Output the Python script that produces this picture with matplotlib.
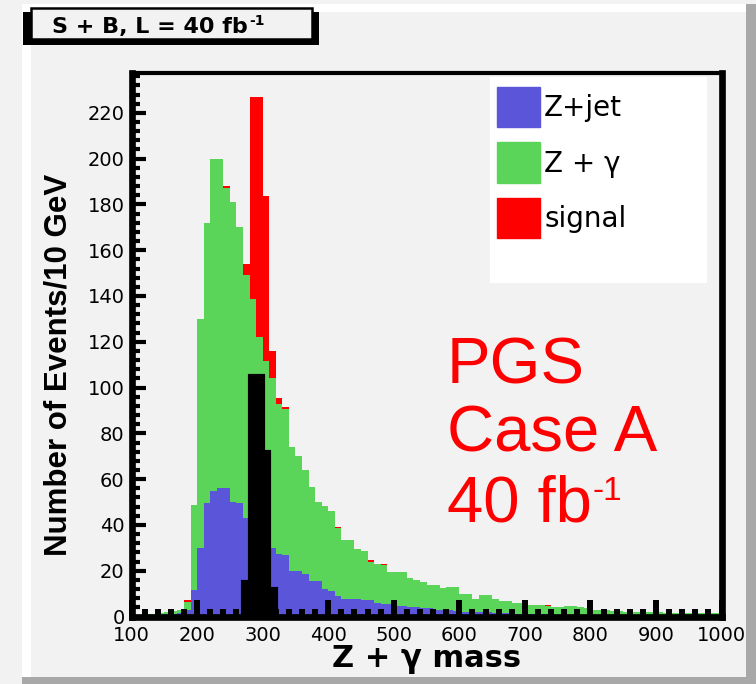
import numpy as np
import matplotlib
matplotlib.use("Agg")
import matplotlib.pyplot as plt
from matplotlib.patches import Rectangle, Patch

# 10 GeV bins from 100 to 1000 GeV
edges = np.arange(100, 1001, 10)

# Z+jet background (bottom of the stack)
zjet = [0.3, 0.4, 0.5, 0.6, 0.8, 1.0, 1.0, 1.5, 2.8, 11.5,
        30, 49.7, 55, 56, 56, 50, 49.5, 43, 40, 36,
        33, 30, 27.5, 26.7, 20, 20, 18.7, 15.5, 15.5, 12.2,
        11, 9, 7.8, 7.8, 7.5, 7.1, 7.1, 6, 5.6, 5.5,
        4.5, 4.5, 4, 4, 3.5, 3.5, 3, 3, 3, 2.5,
        2, 2, 2, 2, 1.8, 1.5, 1.5, 1.5, 1.2, 1.2,
        1, 1, 1, 1, 0.8, 0.8, 0.8, 0.8, 0.6, 0.6,
        0.5, 0.5, 0.5, 0.5, 0.5, 0.5, 0.4, 0.4, 0.4, 0.4,
        0.4, 0.3, 0.3, 0.3, 0.3, 0.3, 0.3, 0.3, 0.3, 0.3]

# Z + gamma background (stacked on Z+jet)
zgamma = [0.2, 0.4, 0.5, 0.6, 0.7, 1.0, 1.5, 1.5, 3.6, 37.0,
          100.0, 122.3, 145.0, 144.0, 131.0, 131.0, 120.5, 106.0, 98.6, 86.0,
          78.7, 74.0, 65.3, 63.9, 54.0, 50.0, 45.5, 41.0, 34.5, 36.0,
          35.3, 29.8, 25.4, 25.4, 21.8, 21.5, 16.7, 16.8, 16.7, 14.0,
          15.0, 14.8, 12.6, 11.8, 11.6, 10.1, 10.6, 9.5, 9.9, 10.4,
          8.0, 8.0, 5.8, 7.6, 7.8, 6.0, 5.2, 5.2, 4.9, 4.9,
          4.2, 4.2, 4.0, 3.8, 3.5, 3.5, 4.0, 4.0, 3.4, 3.0,
          2.4, 2.3, 2.3, 1.8, 1.7, 1.6, 1.6, 1.6, 1.5, 1.4,
          1.4, 1.4, 1.4, 1.3, 1.3, 1.3, 1.2, 1.2, 1.2, 1.2]

# signal (stacked on top)
signal = [0, 0, 0, 0, 0, 0, 0, 0, 0.6, 0,
          0, 0, 0, 0, 1.0, 0, 0, 5, 88.4, 105,
          72, 12, 2.5, 0.8, 0, 0, 0, 0, 0, 0,
          0, 0.4, 0, 0, 0, 0, 0.7, 0, 0.5, 0,
          0, 0, 0, 0, 0, 0, 0.3, 0, 0, 0,
          0, 0, 0, 0, 0, 0, 0, 0, 0, 0,
          0, 0, 0, 0.3, 0, 0, 0, 0, 0, 0,
          0, 0, 0, 0, 0, 0, 0, 0, 0, 0,
          0, 0, 0, 0, 0, 0, 0, 0, 0, 0]

# black thick-line histogram drawn unstacked
black = np.zeros(90)
black[17:22] = [15, 105, 105, 72, 12]

BLUE = "#5a55d9"
GREEN = "#5ad55a"
RED = "#ff0000"
BG = "#f2f2f2"

W, H = 756, 684
fig = plt.figure(figsize=(W / 100, H / 100), dpi=100, facecolor=BG)
renderer = fig.canvas.get_renderer()


def px_rect(x, y, w, h, **kw):
    # rectangle given in pixel coords, origin top-left
    r = Rectangle((x / W, 1 - (y + h) / H), w / W, h / H,
                  transform=fig.transFigure, **kw)
    fig.add_artist(r)
    return r


def text_sup(x, y, base, sup, size, supsize, rise, **kw):
    # base text at pixel x (left) / baseline y, small superscript right after it
    t = fig.text(x / W, 1 - y / H, base, fontsize=size, ha="left", va="baseline", **kw)
    bb = t.get_window_extent(renderer)
    fig.text(bb.x1 / W + 1 / W, 1 - (y - rise) / H, sup, fontsize=supsize,
             ha="left", va="baseline", **kw)


# pad bevel
px_rect(22, 4, 726, 8, color="white", lw=0)
px_rect(22, 4, 9, 674, color="white", lw=0)
px_rect(746, 4, 10, 680, color="#a8a8a8", lw=0)
px_rect(22, 677, 734, 7, color="#a8a8a8", lw=0)

# title box with shadow
px_rect(23, 12, 296, 33, color="black", lw=0)
px_rect(31, 8, 281, 31, facecolor=BG, edgecolor="black", lw=1.8)
text_sup(52, 33, "S + B, L = 40 fb", "-1", 16, 10, 8,
         fontweight="bold", family="DejaVu Sans")

ax = fig.add_axes([131.5 / W, 1 - 616.5 / H, 590 / W, 543.5 / H])
ax.set_facecolor(BG)

b = np.array(zjet)
g = b + np.array(zgamma)
s = g + np.array(signal)
ax.stairs(s, edges, fill=True, color=RED, lw=0)
ax.stairs(g, edges, fill=True, color=GREEN, lw=0)
ax.stairs(b, edges, fill=True, color=BLUE, lw=0)
ax.stairs(black, edges, fill=True, color="black", lw=0)
ax.stairs(black, edges, color="black", lw=3)

ax.set_xlim(100, 1000)
ax.set_ylim(0, 237.4)

for side in ["left", "bottom", "right"]:
    ax.spines[side].set_linewidth(4.8)
ax.spines["top"].set_linewidth(3)

ax.set_xticks(np.arange(100, 1001, 100))
ax.set_xticks(np.arange(100, 1001, 20), minor=True)
ax.set_yticks(np.arange(0, 221, 20))
ax.set_yticks(np.arange(0, 237, 4), minor=True)
ax.tick_params(axis="x", which="major", direction="in", length=12, width=4.3,
               pad=7, labelsize=14)
ax.tick_params(axis="x", which="minor", direction="in", length=6, width=4.3)
ax.tick_params(axis="y", which="major", direction="in", length=10, width=3,
               pad=5, labelsize=14)
ax.tick_params(axis="y", which="minor", direction="in", length=6, width=3)
for lab in ax.get_xticklabels() + ax.get_yticklabels():
    lab.set_family("DejaVu Sans")

ax.set_xlabel("Z + γ mass", fontsize=22, fontweight="bold",
              family="DejaVu Sans", labelpad=0)
fig.text(59 / W, 1 - 365 / H, "Number of Events/10 GeV", rotation=90,
         ha="center", va="center", fontsize=22.5, fontweight="bold",
         family="Liberation Sans")

# legend
px_rect(490, 77, 217, 206, color="white", lw=0)
handles = [Patch(color=BLUE), Patch(color=GREEN), Patch(color=RED)]
fig.legend(handles, ["Z+jet", "Z + γ", "signal"],
           loc="upper left", bbox_to_anchor=(497 / W, 1 - 87 / H),
           frameon=False, handlelength=1.55, handleheight=1.85,
           handletextpad=0.15, labelspacing=0.55, borderpad=0, borderaxespad=0,
           prop={"family": "DejaVu Sans", "size": 20})

# red annotation
for txt, yb in [("PGS", 383), ("Case A", 452)]:
    fig.text(447 / W, 1 - yb / H, txt, color=RED, fontsize=47,
             family="Liberation Sans", ha="left", va="baseline")
text_sup(447, 522, "40 fb", "-1", 47, 24, 22, color=RED, family="Liberation Sans")

fig.savefig("out.png", dpi=100, facecolor=BG)
